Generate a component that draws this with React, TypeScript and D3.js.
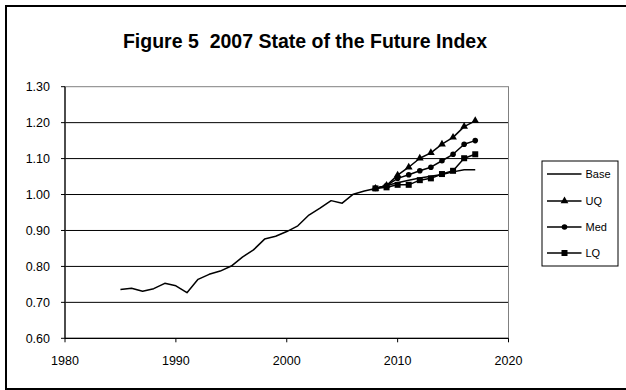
import React from "react";
import * as d3 from "d3";

// Historical index (Base) and projections (UQ / Med / LQ)
const baseYears = [
  1985, 1986, 1987, 1988, 1989, 1990, 1991, 1992, 1993, 1994, 1995, 1996,
  1997, 1998, 1999, 2000, 2001, 2002, 2003, 2004, 2005, 2006, 2007, 2008,
  2009, 2010, 2011, 2012, 2013, 2014, 2015, 2016, 2017,
];
const baseValues = [
  0.736, 0.739, 0.731, 0.738, 0.753, 0.746, 0.727, 0.764, 0.778, 0.787, 0.801,
  0.826, 0.846, 0.876, 0.884, 0.897, 0.913, 0.943, 0.962, 0.983, 0.976, 1.001,
  1.01, 1.017, 1.025, 1.033, 1.04, 1.046, 1.051, 1.056, 1.063, 1.069, 1.069,
];
const projYears = [2008, 2009, 2010, 2011, 2012, 2013, 2014, 2015, 2016, 2017];
const uqValues = [1.017, 1.025, 1.054, 1.076, 1.101, 1.116, 1.14, 1.159, 1.189, 1.205];
const medValues = [1.017, 1.025, 1.045, 1.055, 1.066, 1.076, 1.094, 1.112, 1.14, 1.15];
const lqValues = [1.017, 1.02, 1.027, 1.027, 1.04, 1.045, 1.057, 1.066, 1.101, 1.112];

const xTicks = [1980, 1990, 2000, 2010, 2020];
const yTicks = [0.6, 0.7, 0.8, 0.9, 1.0, 1.1, 1.2, 1.3];
const legendLabels = ["Base", "UQ", "Med", "LQ"];

const FONT = "'Liberation Sans', Arial, sans-serif";

type Marker = "none" | "triangle" | "circle" | "square";

function MarkerShape({ kind, x, y }: { kind: Marker; x: number; y: number }) {
  if (kind === "triangle") {
    const d = d3.symbol(d3.symbolTriangle, 26)();
    return <path d={d || ""} transform={`translate(${x},${y})`} fill="#000" />;
  }
  if (kind === "circle") {
    return <circle cx={x} cy={y} r={2.8} fill="#000" />;
  }
  if (kind === "square") {
    return <rect x={x - 3} y={y - 3} width={6} height={6} fill="#000" />;
  }
  return null;
}

export default function App() {
  const W = 626;
  const H = 390;
  const plot = { left: 65, right: 508.5, top: 86.7, bottom: 338.3 };

  const x = d3.scaleLinear().domain([1980, 2020]).range([plot.left, plot.right]);
  const y = d3.scaleLinear().domain([0.6, 1.3]).range([plot.bottom, plot.top]);

  const line = d3
    .line<[number, number]>()
    .x((d) => x(d[0]))
    .y((d) => y(d[1]));

  const series: { name: string; years: number[]; values: number[]; marker: Marker }[] = [
    { name: legendLabels[0], years: baseYears, values: baseValues, marker: "none" },
    { name: legendLabels[1], years: projYears, values: uqValues, marker: "triangle" },
    { name: legendLabels[2], years: projYears, values: medValues, marker: "circle" },
    { name: legendLabels[3], years: projYears, values: lqValues, marker: "square" },
  ];

  const legend = { x: 542, y: 161, w: 76, h: 105 };
  const legendRowY = [174, 201, 227, 253];

  return (
    <svg
      width={W}
      height={H}
      style={{ position: "absolute", left: 0, top: 0, background: "#fff" }}
      fontFamily={FONT}
    >
      <rect x={0} y={0} width={W} height={H} fill="#fff" />
      {/* outer chart frame */}
      <rect x={6} y={6} width={W + 10} height={383} fill="none" stroke="#000" strokeWidth={2} />

      <text
        x={305}
        y={48}
        textAnchor="middle"
        fontSize={19.5}
        fontWeight="bold"
        style={{ whiteSpace: "pre" }}
      >
        {"Figure 5  2007 State of the Future Index"}
      </text>

      {/* gridlines */}
      {yTicks.slice(1, -1).map((t) => (
        <line key={t} x1={plot.left} x2={plot.right} y1={y(t)} y2={y(t)} stroke="#000" strokeWidth={1} />
      ))}
      {/* plot border */}
      <rect
        x={plot.left}
        y={plot.top}
        width={plot.right - plot.left}
        height={plot.bottom - plot.top}
        fill="none"
        stroke="#808080"
        strokeWidth={1}
      />

      {/* axes */}
      <line x1={plot.left} x2={plot.left} y1={plot.top} y2={plot.bottom} stroke="#000" strokeWidth={1.2} />
      <line x1={plot.left} x2={plot.right} y1={plot.bottom} y2={plot.bottom} stroke="#000" strokeWidth={1.2} />
      {yTicks.map((t) => (
        <g key={t}>
          <line x1={plot.left - 4} x2={plot.left} y1={y(t)} y2={y(t)} stroke="#000" />
          <text x={50} y={y(t)} dy="0.35em" textAnchor="end" fontSize={12.5}>
            {t.toFixed(2)}
          </text>
        </g>
      ))}
      {xTicks.map((t) => (
        <g key={t}>
          <line x1={x(t)} x2={x(t)} y1={plot.bottom} y2={plot.bottom + 4} stroke="#000" />
          <text x={x(t)} y={365} textAnchor="middle" fontSize={12.5}>
            {t}
          </text>
        </g>
      ))}

      {/* series */}
      {series.map((s) => {
        const pts = s.years.map((yr, i) => [yr, s.values[i]] as [number, number]);
        return (
          <g key={s.name}>
            <path d={line(pts) || ""} fill="none" stroke="#000" strokeWidth={1.5} strokeLinejoin="round" />
            {s.marker !== "none" &&
              pts.map((p) => <MarkerShape key={p[0]} kind={s.marker} x={x(p[0])} y={y(p[1])} />)}
          </g>
        );
      })}

      {/* legend */}
      <rect x={legend.x} y={legend.y} width={legend.w} height={legend.h} fill="#fff" stroke="#000" strokeWidth={1} />
      {series.map((s, i) => (
        <g key={s.name}>
          <line x1={547} x2={581.5} y1={legendRowY[i]} y2={legendRowY[i]} stroke="#000" strokeWidth={1.5} />
          <MarkerShape kind={s.marker} x={564.5} y={legendRowY[i]} />
          <text x={585.5} y={legendRowY[i]} dy="0.35em" fontSize={11}>
            {s.name}
          </text>
        </g>
      ))}
    </svg>
  );
}
